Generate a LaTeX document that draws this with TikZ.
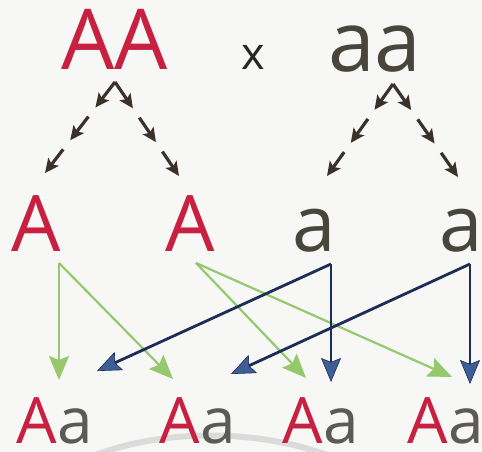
\documentclass[tikz,border=0pt]{standalone}
\usepackage{fontspec}
\setmainfont{Open Sans}
\usetikzlibrary{arrows.meta,calc}
\definecolor{redA}{RGB}{200,32,64}
\definecolor{graya}{RGB}{72,70,60}
\definecolor{grayb}{RGB}{92,90,84}
\definecolor{greenl}{RGB}{150,200,110}
\definecolor{navy}{RGB}{30,44,86}
\definecolor{bluehead}{RGB}{62,94,150}
\definecolor{brownd}{RGB}{58,50,42}
\definecolor{bg}{RGB}{247,247,245}
\newcommand{\nodepth}[1]{\raisebox{0pt}[\height][0pt]{#1}}
\tikzset{
  big/.style={inner sep=0pt,anchor=base,font=\fontsize{84}{84}\selectfont},
  mid/.style={inner sep=0pt,anchor=base,font=\fontsize{78}{78}\selectfont},
  low/.style={inner sep=0pt,anchor=base,font=\fontsize{64}{64}\selectfont},
  dasharrow/.style={draw=brownd,line width=3.2pt,-{Stealth[length=14pt,width=13pt,inset=3pt]}},
  greenarrow/.style={draw=greenl,line width=2.2pt,-{Stealth[length=24pt,width=20pt,inset=4pt,fill=greenl]}},
  bluearrow/.style={draw=navy,line width=2.8pt,-{Stealth[length=24pt,width=20pt,inset=4pt,color=navy,fill=bluehead,line width=0.6pt]}}
}
\begin{document}
\begin{tikzpicture}[x=1pt,y=-1pt]
\fill[bg] (0,0) rectangle (482,452);
\useasboundingbox (0,0) rectangle (482,452);
% faint arc
\draw[line width=6pt,color=black!14] (88,458) .. controls (160,428) and (260,428) .. (335,458);
% top row
\node[big,text=redA] (AA) at (114.5,70) {AA};
\node[inner sep=0pt,anchor=base,font=\fontsize{45}{45}\selectfont,text=black!85] (x) at (253,70) {x};
\node[big,text=graya] (aa) at (375,71) {aa};
% middle row
\node[mid,text=redA] (A1) at (36,251) {A};
\node[mid,text=redA] (A2) at (190,251) {A};
\node[mid,text=graya] (a1) at (314,251) {a};
\node[mid,text=graya] (a2) at (461,251) {a};
% bottom row
\node[low] (B1) at (55,443) {\nodepth{\textcolor{redA}{A}\textcolor{grayb}{a}}};
\node[low] (B2) at (198,443) {\nodepth{\textcolor{redA}{A}\textcolor{grayb}{a}}};
\node[low] (B3) at (321,443) {\nodepth{\textcolor{redA}{A}\textcolor{grayb}{a}}};
\node[low] (B4) at (446,443) {\nodepth{\textcolor{redA}{A}\textcolor{grayb}{a}}};
% dashed arrow coordinates
\coordinate (p1) at (115,82);
\coordinate (q1) at (45,173);
\coordinate (r1) at (179,176);
\coordinate (p2) at (393,84);
\coordinate (q2) at (327,176);
\coordinate (r2) at (458,177);
\foreach \p/\q in {p1/q1,p1/r1,p2/q2,p2/r2}{
  \draw[dasharrow] (\p) -- ($(\p)!0.28!(\q)$);
  \draw[dasharrow] ($(\p)!0.38!(\q)$) -- ($(\p)!0.64!(\q)$);
  \draw[dasharrow] ($(\p)!0.74!(\q)$) -- (\q);
}
% offspring arrow coordinates
\coordinate (sA1) at (59,263);
\coordinate (sA2) at (196,263);
\coordinate (sa1) at (331,264);
\coordinate (sa2) at (470,264);
\coordinate (e11) at (59,380);
\coordinate (e12) at (173,379);
\coordinate (e21) at (306,378);
\coordinate (e22) at (452,377);
\coordinate (f11) at (331,382);
\coordinate (f12) at (97,371);
\coordinate (f21) at (470,384);
\coordinate (f22) at (231,374);
\draw[greenarrow] (sA1) -- (e11);
\draw[greenarrow] (sA1) -- (e12);
\draw[greenarrow] (sA2) -- (e21);
\draw[greenarrow] (sA2) -- (e22);
\draw[bluearrow] (sa1) -- (f11);
\draw[bluearrow] (sa1) -- (f12);
\draw[bluearrow] (sa2) -- (f21);
\draw[bluearrow] (sa2) -- (f22);
\end{tikzpicture}
\end{document}
